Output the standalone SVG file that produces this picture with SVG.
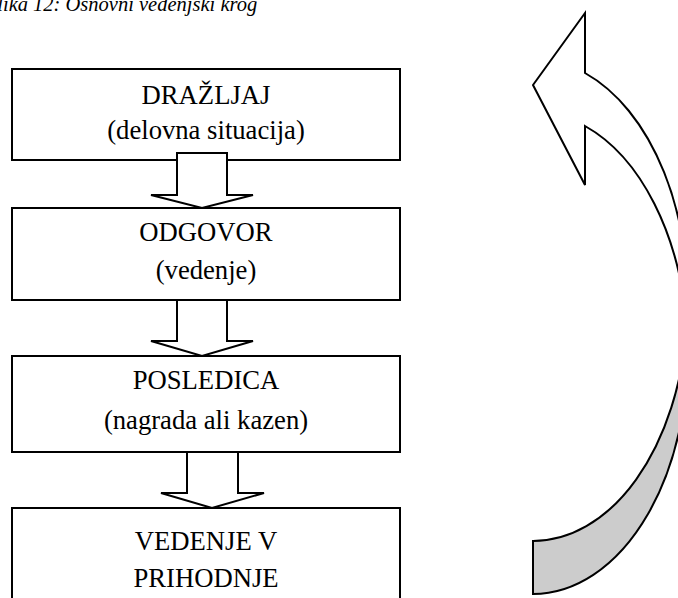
<svg xmlns="http://www.w3.org/2000/svg" width="678" height="598" viewBox="0 0 678 598">
  <style>
    .box { fill: #ffffff; stroke: #000000; stroke-width: 2; }
    .label { font-family: "Liberation Serif", "Times New Roman", serif; font-size: 26.67px; fill: #000000; text-anchor: middle; }
    .caption { font-family: "Liberation Serif", "Times New Roman", serif; font-size: 20.5px; font-style: italic; fill: #000000; }
    .flow { fill: #ffffff; stroke: #000000; stroke-width: 2; stroke-linejoin: miter; }
    .ribbon { stroke: #000000; stroke-width: 2; stroke-linejoin: miter; }
  </style>

  <!-- caption -->
  <text class="caption" x="-13" y="11">Slika 12: Osnovni vedenjski krog</text>

  <!-- boxes -->
  <g id="drazljaj">
    <rect class="box" x="12" y="69" width="388" height="91"/>
    <text class="label" x="206" y="104">DRAŽLJAJ</text>
    <text class="label" x="206" y="139">(delovna situacija)</text>
  </g>
  <g id="odgovor">
    <rect class="box" x="12" y="208" width="388" height="92"/>
    <text class="label" x="206" y="241">ODGOVOR</text>
    <text class="label" x="206" y="279">(vedenje)</text>
  </g>
  <g id="posledica">
    <rect class="box" x="12" y="356" width="388" height="96"/>
    <text class="label" x="206" y="389">POSLEDICA</text>
    <text class="label" x="206" y="429">(nagrada ali kazen)</text>
  </g>
  <g id="vedenje">
    <rect class="box" x="12" y="508" width="388" height="120"/>
    <text class="label" x="206" y="550">VEDENJE V</text>
    <text class="label" x="206" y="587">PRIHODNJE</text>
  </g>

  <!-- block arrows between the boxes -->
  <g id="connectors">
    <path class="flow" d="M177,153 H227 V195 H253 L202,208 L151,195 H177 Z"/>
    <path class="flow" d="M177,300 H227 V341 H253 L202,356 L151,341 H177 Z"/>
    <path class="flow" d="M187,452 H238 V493 H264 L212,508 L161,493 H187 Z"/>
  </g>

  <!-- curved return arrow: two equal ellipses shifted vertically -->
  <g id="return-arrow">
    <path class="ribbon" fill="#cccccc"
          d="M533,541 A154.5,241 0 0 0 686.6,326.5 A154.5,241 0 0 1 533,594 Z"/>
    <path class="ribbon" fill="#ffffff"
          d="M585,73 A154.5,241 0 0 1 686.6,326.5 A154.5,241 0 0 0 585,126 V185 L533,85 L585,13 Z"/>
  </g>
</svg>
